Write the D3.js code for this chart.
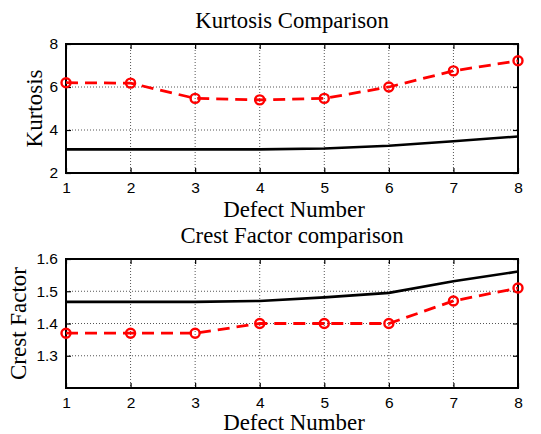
<!DOCTYPE html>
<html>
<head>
<meta charset="utf-8">
<script src="https://cdn.jsdelivr.net/npm/d3@7"></script>
<style>
  html, body { margin: 0; padding: 0; background: #fff; }
  svg { display: block; }
</style>
</head>
<body>
<svg id="chart" width="541" height="434"></svg>
<script>
// Defect numbers shared by both panels
const defects = [1, 2, 3, 4, 5, 6, 7, 8];
const xTicks = [1, 2, 3, 4, 5, 6, 7, 8];

// Kurtosis panel
const kurtosisDashed = [6.2, 6.18, 5.47, 5.4, 5.47, 6.0, 6.75, 7.22];
const kurtosisSolid = [3.1, 3.1, 3.1, 3.1, 3.14, 3.27, 3.48, 3.7];
const kurtosisTicks = [2, 4, 6, 8];

// Crest factor panel
const crestDashed = [1.37, 1.37, 1.37, 1.40, 1.40, 1.40, 1.47, 1.51];
const crestSolid = [1.467, 1.467, 1.467, 1.47, 1.481, 1.495, 1.531, 1.561];
const crestTicks = [1.3, 1.4, 1.5, 1.6];

const svg = d3.select("#chart");

function panel(opts) {
  const { top, bottom, left, right, yDomain, yTicks, yFormat, dashed, solid, title, yLabel } = opts;
  const x = d3.scaleLinear().domain([1, 8]).range([left, right]);
  const y = d3.scaleLinear().domain(yDomain).range([bottom, top]);
  const g = svg.append("g");

  // dotted grid
  const grid = g.append("g").attr("stroke", "#555").attr("stroke-width", 1)
    .attr("stroke-dasharray", "1,2");
  xTicks.slice(1, -1).forEach(t => {
    grid.append("line").attr("x1", x(t)).attr("x2", x(t)).attr("y1", top).attr("y2", bottom);
  });
  yTicks.filter(t => t > yDomain[0] && t < yDomain[1]).forEach(t => {
    grid.append("line").attr("x1", left).attr("x2", right).attr("y1", y(t)).attr("y2", y(t));
  });

  // axes with inward ticks
  const axB = d3.axisBottom(x).tickValues(xTicks).tickSizeInner(-5).tickSizeOuter(0).tickPadding(9).tickFormat(d3.format("d"));
  const axT = d3.axisTop(x).tickValues(xTicks).tickSizeInner(-5).tickSizeOuter(0).tickFormat("");
  const axL = d3.axisLeft(y).tickValues(yTicks).tickSizeInner(-5).tickSizeOuter(0).tickPadding(8).tickFormat(yFormat);
  const axR = d3.axisRight(y).tickValues(yTicks).tickSizeInner(-5).tickSizeOuter(0).tickFormat("");

  [[axB, `translate(0,${bottom})`], [axT, `translate(0,${top})`],
   [axL, `translate(${left},0)`], [axR, `translate(${right},0)`]].forEach(([ax, tr]) => {
    const a = g.append("g").attr("transform", tr).call(ax);
    a.select(".domain").remove();
    a.selectAll(".tick line").attr("stroke", "#000").attr("stroke-width", 1.2);
    a.selectAll("text").attr("font-family", "Liberation Sans, Arial, sans-serif")
      .attr("font-size", 15.5).attr("fill", "#000");
  });

  // box
  g.append("rect").attr("x", left).attr("y", top).attr("width", right - left).attr("height", bottom - top)
    .attr("fill", "none").attr("stroke", "#000").attr("stroke-width", 2);

  const line = d3.line().x((d, i) => x(defects[i])).y(d => y(d));

  g.append("path").datum(solid).attr("d", line).attr("fill", "none")
    .attr("stroke", "#000").attr("stroke-width", 2.6);

  g.append("path").datum(dashed).attr("d", line).attr("fill", "none")
    .attr("stroke", "#ff0000").attr("stroke-width", 2.8).attr("stroke-dasharray", "12,7");

  g.selectAll("circle.m").data(dashed).enter().append("circle")
    .attr("cx", (d, i) => x(defects[i])).attr("cy", d => y(d)).attr("r", 4.5)
    .attr("fill", "none").attr("stroke", "#ff0000").attr("stroke-width", 2.4);

  // titles and labels
  const serif = "Liberation Serif, 'Times New Roman', serif";
  g.append("text").attr("x", (left + right) / 2).attr("y", top - 16)
    .attr("text-anchor", "middle").attr("font-family", serif).attr("font-size", 22.7)
    .text(title);
  g.append("text").attr("x", (left + right) / 2 + 2).attr("y", bottom + opts.xLabelDy)
    .attr("text-anchor", "middle").attr("font-family", serif).attr("font-size", 22.9)
    .text("Defect Number");
  g.append("text").attr("transform", `translate(${opts.yLabelX},${(top + bottom) / 2}) rotate(-90)`)
    .attr("text-anchor", "middle").attr("font-family", serif).attr("font-size", 23)
    .text(yLabel);
}

panel({
  top: 44, bottom: 173, left: 66, right: 518,
  yDomain: [2, 8], yTicks: kurtosisTicks, yFormat: d3.format("d"),
  dashed: kurtosisDashed, solid: kurtosisSolid,
  title: "Kurtosis Comparison", yLabel: "Kurtosis", yLabelX: 42, xLabelDy: 44
});

panel({
  top: 259, bottom: 388, left: 66, right: 518,
  yDomain: [1.2, 1.6], yTicks: crestTicks, yFormat: d3.format(".1f"),
  dashed: crestDashed, solid: crestSolid,
  title: "Crest Factor comparison", yLabel: "Crest Factor", yLabelX: 26, xLabelDy: 42
});
</script>
</body>
</html>
